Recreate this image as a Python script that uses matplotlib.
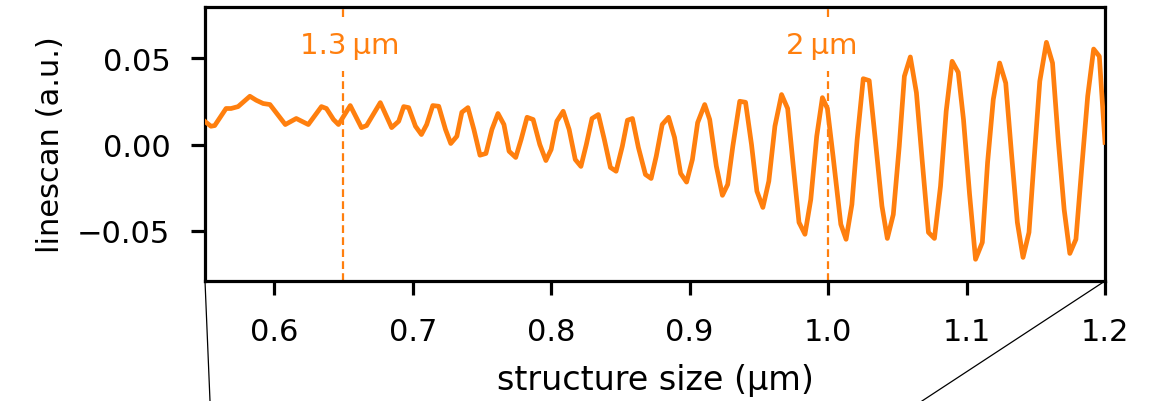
import matplotlib
matplotlib.use("Agg")
import matplotlib.pyplot as plt
from matplotlib.lines import Line2D

# structure size (µm) and linescan values (a.u.)
size_um = [0.5498, 0.5543, 0.5570, 0.5652, 0.5688, 0.5739, 0.5824, 0.5870, 0.5920, 0.5969,
           0.6014, 0.6080, 0.6159, 0.6246, 0.6341, 0.6377, 0.6428, 0.6464, 0.6549, 0.6630,
           0.6667, 0.6766, 0.6848, 0.6899, 0.6935, 0.6971, 0.7020, 0.7063, 0.7101, 0.7145,
           0.7188, 0.7237, 0.7275, 0.7319, 0.7355, 0.7399, 0.7442, 0.7486, 0.7529, 0.7572,
           0.7616, 0.7659, 0.7696, 0.7744, 0.7783, 0.7826, 0.7870, 0.7918, 0.7962, 0.8000,
           0.8041, 0.8087, 0.8130, 0.8174, 0.8215, 0.8254, 0.8295, 0.8341, 0.8384, 0.8428,
           0.8469, 0.8514, 0.8551, 0.8587, 0.8630, 0.8681, 0.8722, 0.8759, 0.8802, 0.8848,
           0.8891, 0.8935, 0.8978, 0.9020, 0.9058, 0.9109, 0.9145, 0.9193, 0.9237, 0.9275,
           0.9312, 0.9362, 0.9404, 0.9447, 0.9486, 0.9529, 0.9572, 0.9616, 0.9664, 0.9708,
           0.9746, 0.9790, 0.9833, 0.9875, 0.9918, 0.9959, 0.9995, 1.0036, 1.0092, 1.0130,
           1.0172, 1.0210, 1.0254, 1.0297, 1.0341, 1.0389, 1.0428, 1.0471, 1.0514, 1.0551,
           1.0594, 1.0638, 1.0679, 1.0725, 1.0768, 1.0812, 1.0853, 1.0896, 1.0940, 1.0978,
           1.1022, 1.1065, 1.1114, 1.1152, 1.1193, 1.1239, 1.1283, 1.1324, 1.1367, 1.1408,
           1.1451, 1.1488, 1.1529, 1.1577, 1.1621, 1.1662, 1.1705, 1.1746, 1.1790, 1.1831,
           1.1875, 1.1918, 1.1959, 1.2000]
linescan = [0.0135, 0.0106, 0.0110, 0.0209, 0.0209, 0.0220, 0.0280, 0.0257, 0.0238, 0.0232,
            0.0185, 0.0116, 0.0151, 0.0116, 0.0220, 0.0209, 0.0145, 0.0116, 0.0226, 0.0098,
            0.0110, 0.0243, 0.0098, 0.0135, 0.0220, 0.0214, 0.0106, 0.0058, 0.0116, 0.0226,
            0.0222, 0.0087, 0.0006, 0.0048, 0.0187, 0.0214, 0.0087, -0.0062, -0.0052, 0.0087,
            0.0180, 0.0116, -0.0039, -0.0075, 0.0029, 0.0158, 0.0145, 0.0000, -0.0093, -0.0029,
            0.0135, 0.0193, 0.0087, -0.0087, -0.0127, 0.0000, 0.0151, 0.0174, 0.0029, -0.0133,
            -0.0155, -0.0010, 0.0141, 0.0151, -0.0017, -0.0174, -0.0197, -0.0068, 0.0116, 0.0158,
            0.0041, -0.0168, -0.0218, -0.0087, 0.0127, 0.0232, 0.0145, -0.0126, -0.0295, -0.0232,
            -0.0010, 0.0251, 0.0245, 0.0000, -0.0271, -0.0365, -0.0213, 0.0106, 0.0290, 0.0209,
            -0.0104, -0.0452, -0.0521, -0.0319, 0.0048, 0.0272, 0.0209, -0.0068, -0.0463, -0.0550,
            -0.0348, 0.0029, 0.0382, 0.0371, 0.0029, -0.0357, -0.0545, -0.0406, -0.0010, 0.0396,
            0.0508, 0.0301, -0.0087, -0.0510, -0.0545, -0.0242, 0.0193, 0.0483, 0.0419, 0.0145,
            -0.0290, -0.0666, -0.0568, -0.0104, 0.0261, 0.0473, 0.0357, -0.0046, -0.0452, -0.0655,
            -0.0510, -0.0087, 0.0367, 0.0593, 0.0473, 0.0029, -0.0377, -0.0632, -0.0550, -0.0145,
            0.0280, 0.0554, 0.0512, 0.0012]

marker_x = [0.65, 1.0]
marker_labels = ["1.3\u2009µm", "2\u2009µm"]
xticks = [0.6, 0.7, 0.8, 0.9, 1.0, 1.1, 1.2]
yticks = [-0.05, 0.0, 0.05]

ORANGE = "#ff7f0e"
plt.rcParams['font.family'] = ['DejaVu Sans']
plt.rcParams['font.size'] = 22

fig = plt.figure(figsize=(11.51, 4.02), dpi=100)
ax = fig.add_axes([205/1151, 1-282/402, (1105-205)/1151, (282-8)/402])

ax.plot(size_um, linescan, color=ORANGE, lw=3.4, zorder=3)

label_offsets = [0.0045, -0.0047]
for xv, lab, off in zip(marker_x, marker_labels, label_offsets):
    ax.axvline(xv, color=ORANGE, lw=1.6, ls=(0, (3.5, 1.9)), zorder=2)
    ax.text(xv + off, 0.0578, lab, color=ORANGE, ha='center', va='center', fontsize=21,
            bbox=dict(facecolor='white', edgecolor='none', pad=9), zorder=4)

ax.set_xlim(0.55, 1.2)
ax.set_ylim(-0.0792, 0.0798)
ax.set_xticks(xticks)
ax.set_xticklabels([f"{t:.1f}" for t in xticks])
ax.set_yticks(yticks)
ax.set_yticklabels(["\u22120.05", "0.00", "0.05"])
ax.set_xlabel("structure size (µm)", labelpad=12, fontsize=24)
ax.set_ylabel("linescan (a.u.)", labelpad=9)
for s in ax.spines.values():
    s.set_linewidth(2.3)
ax.tick_params(direction='out', length=10, width=2.3)
ax.tick_params(axis='x', pad=16)
ax.tick_params(axis='y', pad=15)

# zoom connector lines
fig.add_artist(Line2D([205/1151, 210/1151], [1-282/402, 0.0], color='black', lw=0.9,
                      transform=fig.transFigure, clip_on=False))
fig.add_artist(Line2D([1105/1151, 922/1151], [1-282/402, 0.0], color='black', lw=0.9,
                      transform=fig.transFigure, clip_on=False))

fig.savefig("out.png", dpi=100)
